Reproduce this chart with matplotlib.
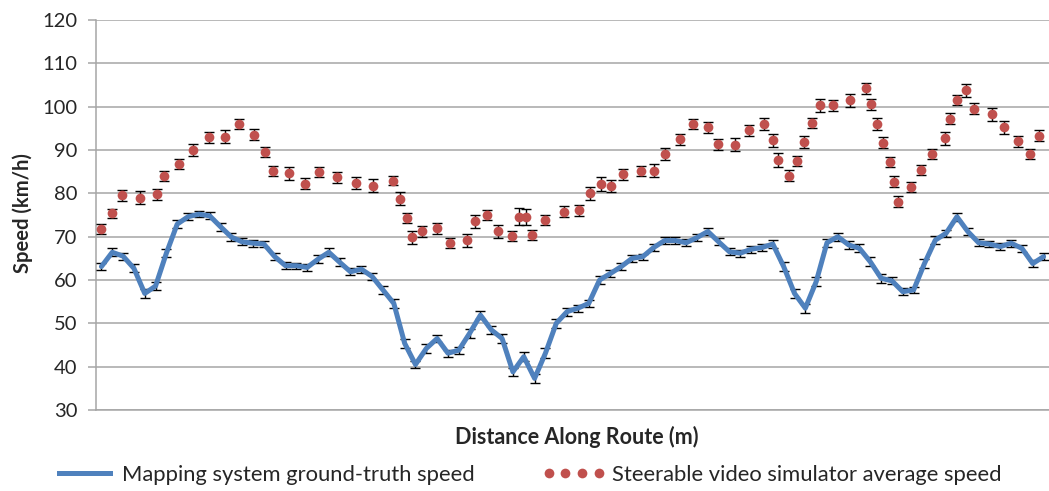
import numpy as np
import matplotlib
matplotlib.use("Agg")
import matplotlib.pyplot as plt
from matplotlib.lines import Line2D

plt.rcParams["font.family"] = ["Lato", "DejaVu Sans"]

# ── data ───────────────────────────────────────────────────────────────────
# ground-truth speed, one value per route segment
truth_speed = [
    63.1, 66.4, 65.5, 62.7, 56.9, 58.6, 66.2, 72.9, 74.6, 75.2,
    74.8, 72.3, 69.9, 68.8, 68.5, 68.3, 65.4, 63.3, 63.3, 62.9,
    64.8, 66.4, 64.1, 61.9, 62.5, 60.8, 57.7, 54.6, 45.4, 40.5,
    44.2, 46.5, 43.1, 43.8, 47.7, 51.9, 48.5, 46.5, 38.8, 42.3,
    37.3, 43.1, 50.0, 52.7, 53.5, 54.6, 60.0, 61.5, 63.1, 65.0,
    65.4, 67.5, 69.1, 69.1, 68.6, 69.8, 71.2, 68.8, 66.5, 66.2,
    67.1, 67.5, 68.3, 63.1, 56.9, 53.5, 59.6, 68.6, 70.0, 68.1,
    67.3, 64.2, 60.4, 59.8, 57.3, 57.7, 63.8, 69.2, 70.8, 74.6,
    71.2, 68.6, 68.3, 67.7, 68.5, 67.3, 63.8, 65.4,
]
truth_err = [
    0.9, 0.9, 0.8, 0.9, 1.0, 0.9, 1.0, 0.9, 0.8, 0.7,
    0.8, 0.9, 0.9, 0.8, 0.8, 0.8, 0.9, 0.8, 0.7, 0.8,
    0.9, 0.9, 0.9, 0.8, 0.8, 0.9, 1.0, 1.0, 1.0, 0.9,
    1.0, 0.9, 0.8, 0.8, 1.0, 0.9, 0.9, 1.0, 1.0, 1.1,
    1.0, 1.1, 1.0, 0.9, 0.8, 0.8, 0.9, 0.9, 0.8, 0.8,
    0.7, 0.8, 0.8, 0.8, 0.8, 0.8, 0.9, 0.8, 0.8, 0.8,
    0.8, 0.8, 0.9, 1.0, 1.0, 1.0, 1.0, 0.9, 0.9, 0.9,
    0.9, 1.0, 1.0, 0.8, 0.8, 0.8, 1.0, 0.9, 0.8, 0.9,
    0.9, 0.8, 0.8, 0.8, 0.8, 0.8, 0.9, 0.8,
]

# simulator average speed, sampled at its own positions along the route
sim_pos = [
    0.0, 1.0, 1.9, 3.6, 5.1, 5.8, 7.2, 8.5, 9.9, 11.4,
    12.7, 14.1, 15.1, 15.8, 17.3, 18.8, 20.1, 21.8, 23.5, 25.1,
    26.9, 27.6, 28.2, 28.7, 29.6, 31.0, 32.2, 33.8, 34.5, 35.6,
    36.6, 37.9, 38.6, 39.2, 39.8, 41.0, 42.7, 44.1, 45.1, 46.1,
    47.1, 48.2, 49.8, 51.0, 52.0, 53.4, 54.6, 56.0, 56.9, 58.5,
    59.8, 61.2, 62.0, 62.5, 63.5, 64.2, 64.9, 65.6, 66.4, 67.6,
    69.1, 70.6, 71.1, 71.6, 72.2, 72.8, 73.2, 73.6, 74.8, 75.7,
    76.7, 77.9, 78.4, 79.0, 79.8, 80.6, 82.2, 83.3, 84.6, 85.7,
    86.6,
]
sim_speed = [
    71.7, 75.4, 79.5, 79.0, 79.8, 84.0, 86.7, 90.0, 92.9, 93.1,
    96.0, 93.5, 89.6, 85.2, 84.6, 82.2, 84.9, 83.7, 82.3, 81.7,
    82.9, 78.7, 74.3, 69.9, 71.2, 71.9, 68.5, 69.2, 73.5, 75.0,
    71.2, 70.2, 74.6, 74.5, 70.4, 73.8, 75.8, 76.1, 80.0, 82.2,
    81.7, 84.4, 85.2, 85.2, 89.1, 92.5, 96.0, 95.2, 91.3, 91.2,
    94.5, 96.0, 92.2, 87.7, 84.1, 87.5, 91.8, 96.2, 100.3, 100.3,
    101.5, 104.2, 100.5, 96.0, 91.7, 87.2, 82.7, 78.1, 81.4, 85.4,
    89.1, 92.7, 97.2, 101.5, 103.8, 99.5, 98.2, 95.2, 92.0, 89.1,
    93.3,
]
sim_err = [
    1.2, 1.0, 1.2, 1.5, 1.3, 1.2, 1.2, 1.4, 1.2, 1.5,
    1.2, 1.3, 1.2, 1.2, 1.5, 1.3, 1.2, 1.3, 1.4, 1.5,
    1.0, 1.5, 1.2, 1.5, 1.3, 1.2, 1.2, 1.5, 1.6, 1.2,
    1.5, 1.2, 2.0, 1.8, 1.2, 1.2, 1.2, 1.3, 1.5, 1.6,
    1.4, 1.3, 1.2, 1.5, 1.4, 1.3, 1.2, 1.3, 1.2, 1.5,
    1.2, 1.3, 1.5, 1.6, 1.2, 1.2, 1.4, 1.2, 1.5, 1.2,
    1.5, 1.2, 1.2, 1.3, 1.2, 1.2, 1.2, 1.2, 1.2, 1.2,
    1.2, 1.5, 1.3, 1.2, 1.5, 1.3, 1.4, 1.5, 1.3, 1.2,
    1.2,
]

y_ticks = [30, 40, 50, 60, 70, 80, 90, 100, 110, 120]

BLUE = "#4F81BD"
RED = "#C0504D"
GRID = "#A6A6A6"
TEXT = "#262626"

# ── plotting ───────────────────────────────────────────────────────────────
fig = plt.figure(figsize=(10.49, 4.91), dpi=100)
ax = fig.add_axes([96 / 1049, 1 - 410 / 491, 953 / 1049, 390 / 491])

seg = np.arange(len(truth_speed))
ax.errorbar(seg, truth_speed, yerr=truth_err, color=BLUE, linewidth=3.6,
            ecolor="black", elinewidth=1.0, capsize=3.5, capthick=1.0,
            solid_joinstyle="round", solid_capstyle="round", zorder=3)
ax.errorbar(sim_pos, sim_speed, yerr=sim_err, fmt="none",
            ecolor="black", elinewidth=1.0, capsize=3.5, capthick=1.0,
            zorder=4)
ax.plot(sim_pos, sim_speed, "o", color=RED, markersize=7,
        markeredgewidth=0, zorder=5)

ax.set_xlim(-0.5, len(truth_speed) - 0.5)
ax.set_ylim(30, 120)
ax.set_yticks(y_ticks)
ax.set_xticks([])
ax.grid(True, axis="y", color=GRID, linewidth=1.1)
ax.set_axisbelow(True)
for side in ("top", "right"):
    ax.spines[side].set_visible(False)
for side in ("left", "bottom"):
    ax.spines[side].set_color(GRID)
    ax.spines[side].set_linewidth(1.1)
ax.tick_params(axis="y", direction="out", length=6, width=1.1, color=GRID,
               labelsize=14.5, labelcolor=TEXT, pad=7.5)

ax.set_ylabel("Speed (km/h)", fontsize=14.5, fontweight="bold", color=TEXT)
ax.yaxis.set_label_coords(-0.077, 0.506)
ax.yaxis.label.set_va("center")
ax.set_xlabel("Distance Along Route (m)", fontsize=15.5, fontweight="bold",
              color=TEXT)
ax.xaxis.set_label_coords(0.504, -0.07)
ax.xaxis.label.set_va("center")

handles = [
    Line2D([], [], color=BLUE, linewidth=3.6),
    Line2D([], [], color=RED, marker="o", linestyle="none", markersize=7,
           markeredgewidth=0),
]
labels = ["Mapping system ground-truth speed",
          "Steerable video simulator average speed"]
fig.legend(handles, labels, loc="center", bbox_to_anchor=(527 / 1049, 1 - 475 / 491),
           ncol=2, numpoints=4, frameon=False, fontsize=15.8, handlelength=2.9,
           handletextpad=0.27, columnspacing=3.05, labelcolor=TEXT)

fig.savefig("out.png", dpi=100)
